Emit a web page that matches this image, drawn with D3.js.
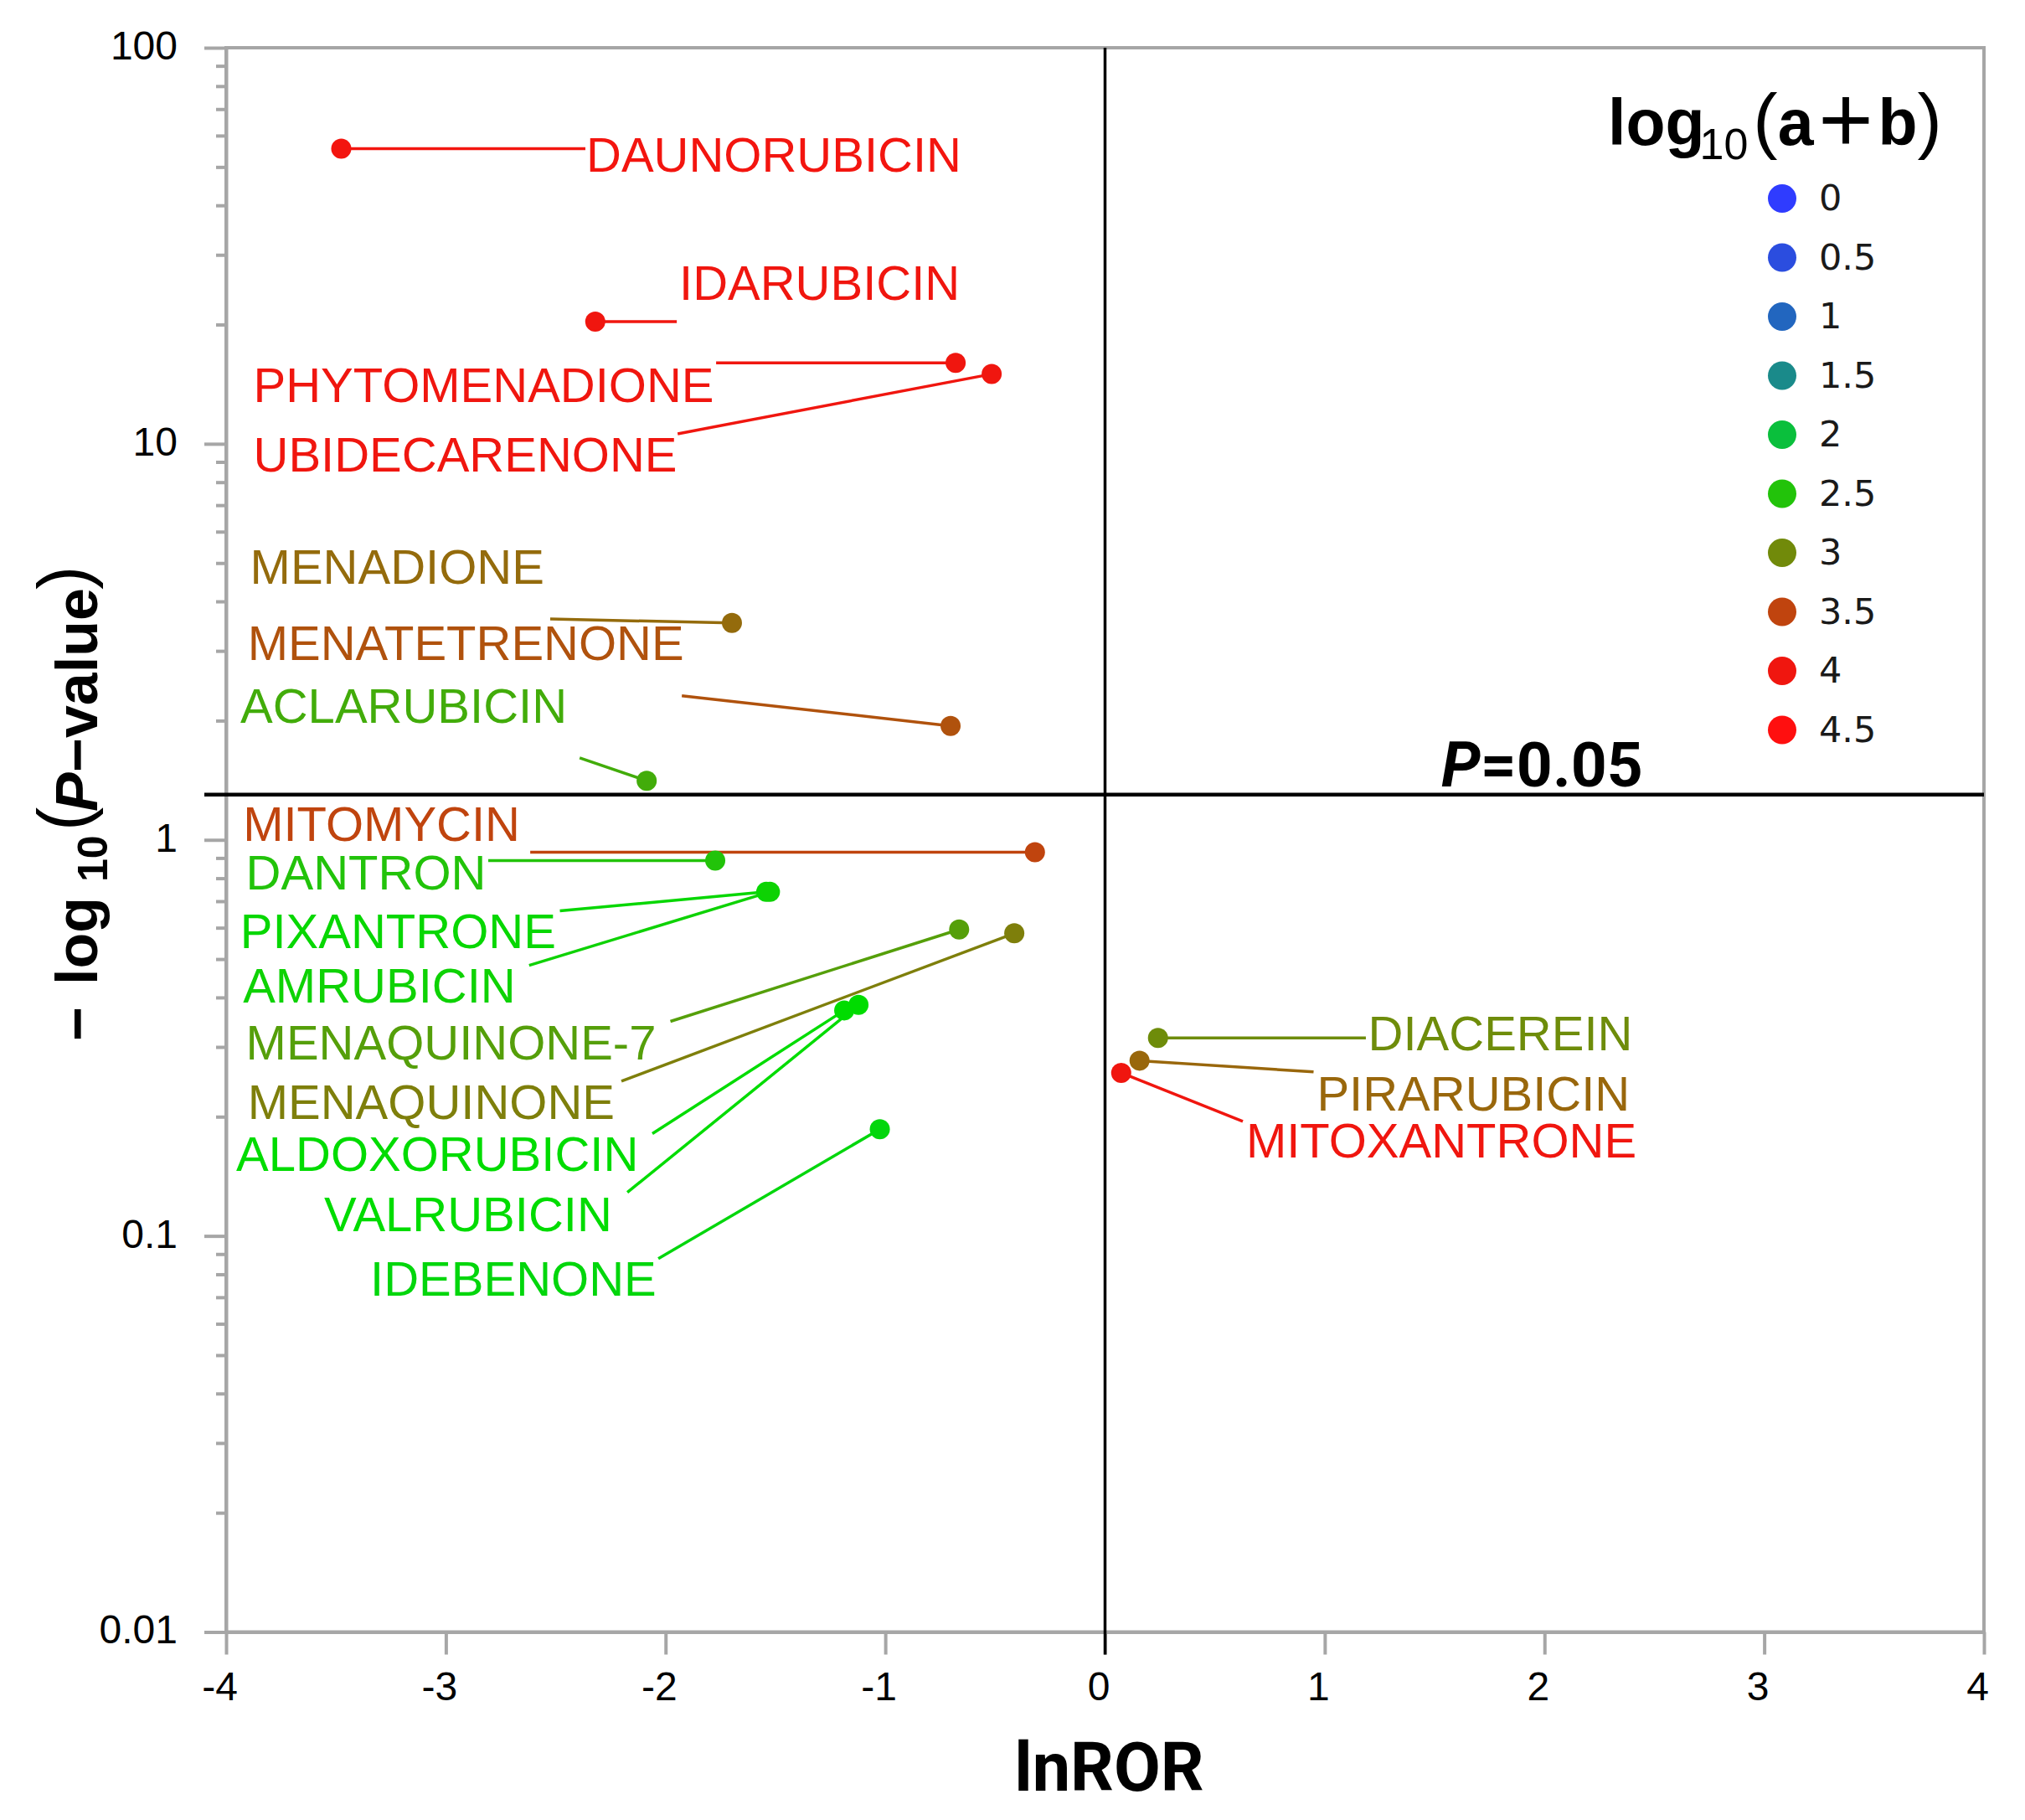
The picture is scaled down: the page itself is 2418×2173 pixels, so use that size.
<!DOCTYPE html>
<html><head><meta charset="utf-8">
<script src="https://cdn.jsdelivr.net/npm/d3@7"></script>
<style>html,body{margin:0;padding:0;background:#fff}</style>
</head><body>
<svg id="chart" width="2418" height="2173"></svg>
<script>
// ---------- data ----------
const drugs = ["DAUNORUBICIN","IDARUBICIN","PHYTOMENADIONE","UBIDECARENONE","MENADIONE","MENATETRENONE","ACLARUBICIN","MITOMYCIN","DANTRON","PIXANTRONE","AMRUBICIN","MENAQUINONE-7","MENAQUINONE","ALDOXORUBICIN","VALRUBICIN","IDEBENONE","DIACEREIN","PIRARUBICIN","MITOXANTRONE"];
const lnROR = [-3.476,-2.32,-0.68,-0.516,-1.698,-0.703,-2.086,-0.319,-1.774,-1.542,-1.525,-0.664,-0.413,-1.187,-1.122,-1.025,0.241,0.157,0.0735];
const negLogP = [55.6,20.35,16.0,15.0,3.53,1.94,1.41,0.931,0.886,0.739,0.739,0.594,0.581,0.371,0.383,0.186,0.316,0.277,0.258];
const logAB = [4.1,4.0,4.0,4.0,3.22,3.4,2.7,3.5,2.5,2.3,2.35,2.82,3.08,2.25,2.25,2.2,2.98,3.25,4.0];
const xTicks = [-4,-3,-2,-1,0,1,2,3,4];
const yTicks = [0.01,0.1,1,10,100];
const yTickLabels = ["0.01","0.1","1","10","100"];
const legendValues = [0,0.5,1,1.5,2,2.5,3,3.5,4,4.5];
const legendLabels = ["0","0.5","1","1.5","2","2.5","3","3.5","4","4.5"];
const pThreshold = 0.05;

// ---------- label layout (data coordinates) ----------
const labelAt = [[-2.361,48.6],[-1.938,23.1],[-3.876,12.75],[-3.876,8.53],[-3.891,4.43],[-3.902,2.85],[-3.935,1.975],[-3.923,0.994],[-3.910,0.750],[-3.936,0.533],[-3.923,0.388],[-3.910,0.279],[-3.902,0.1977],[-3.954,0.146],[-3.554,0.1030],[-3.344,0.0708],[1.197,0.2944],[0.964,0.2077],[0.642,0.1575]];
const leaderEnd = [[-2.365,55.6],[-1.949,20.35],[-1.770,16.0],[-1.945,10.6],[-2.525,3.61],[-1.926,2.31],[-2.391,1.61],[-2.616,0.931],[-2.807,0.886],[-2.481,0.662],[-2.621,0.482],[-1.978,0.348],[-2.201,0.2458],[-2.060,0.1812],[-2.174,0.1288],[-2.033,0.0876],[1.187,0.316],[0.949,0.2594],[0.627,0.1947]];

// ---------- styles ----------
const colorDomain = [0,0.5,1,1.5,2,2.25,2.5,3,3.5,4,4.5];
const colorRange = ["#2f3cff","#2b4ddf","#2266bf","#1a8a8a","#0abf3c","#00dc00","#22c30a","#718a0a","#c0440e","#f0160f","#ff0f0f"];
const legendSwatch = ["#2f3cff","#2b4ddf","#2266bf","#1a8a8a","#0abf3c","#22c30a","#718a0a","#c0440e","#f0160f","#ff0f0f"];
const axisGray = "#a6a6a6";
const sans = "'Liberation Sans', Arial, sans-serif";

const svg = d3.select("#chart");
svg.append("rect").attr("width",2418).attr("height",2173).attr("fill","#fff");

const L = 270, R = 2369, T = 57, B = 1948.5;
const x = d3.scaleLinear().domain([-4,4]).range([L,R]);
const y = d3.scaleLog().domain([0.01,100]).range([B,T]);
const color = d3.scaleLinear().domain(colorDomain).range(colorRange).clamp(true);

// frame
svg.append("rect").attr("x",L).attr("y",T).attr("width",R-L).attr("height",B-T)
  .attr("fill","none").attr("stroke",axisGray).attr("stroke-width",4);

// minor y ticks
const minor = [];
[0.01,0.1,1,10].forEach(d=>{for(let k=2;k<=9;k++) minor.push(d*k);});
const yMinor = svg.append("g").attr("transform",`translate(${L},0)`)
  .call(d3.axisLeft(y).tickValues(minor).tickSize(12).tickSizeOuter(0).tickFormat(""));
yMinor.selectAll("line").attr("stroke",axisGray).attr("stroke-width",4);
yMinor.select(".domain").remove();

// major y ticks
const yAx = svg.append("g").attr("transform",`translate(${L},0)`)
  .call(d3.axisLeft(y).tickValues(yTicks).tickSize(26).tickSizeOuter(0).tickPadding(32)
    .tickFormat((d,i)=>yTickLabels[i]));
yAx.selectAll("line").attr("stroke",axisGray).attr("stroke-width",4);
yAx.select(".domain").attr("stroke",axisGray).attr("stroke-width",4);
yAx.selectAll("text").attr("font-family",sans)
  .attr("font-size",48).attr("fill","#000").attr("dy","0.28em");

// x axis
const xAx = svg.append("g").attr("transform",`translate(0,${B})`)
  .call(d3.axisBottom(x).tickValues(xTicks).tickSize(27).tickSizeOuter(0).tickPadding(20)
    .tickFormat(d3.format("d")));
xAx.selectAll("line").attr("stroke",axisGray).attr("stroke-width",4);
xAx.select(".domain").attr("stroke",axisGray).attr("stroke-width",4);
xAx.selectAll("text").attr("font-family",sans)
  .attr("font-size",48).attr("fill","#000").attr("dx",-8).text(d=>String(d));

// reference lines
svg.append("line").attr("x1",x(0)).attr("x2",x(0)).attr("y1",T).attr("y2",B+27)
  .attr("stroke","#000").attr("stroke-width",3.5);
const yP = y(-Math.log10(pThreshold));
svg.append("line").attr("x1",L-26).attr("x2",R).attr("y1",yP).attr("y2",yP)
  .attr("stroke","#000").attr("stroke-width",4.5);
const pLab = svg.append("text").attr("x",x(1.53)).attr("y",yP-10)
  .attr("font-family","Roboto, 'Liberation Sans', sans-serif").attr("font-weight","bold")
  .attr("font-size",75).attr("fill","#000");
pLab.append("tspan").attr("font-style","italic").text("P");
pLab.append("tspan").text("=0.05");

// data rows
const rows = drugs.map((d,i)=>({name:d, x:lnROR[i], y:negLogP[i], c:color(logAB[i]), lab:labelAt[i], end:leaderEnd[i]}));

svg.append("g").selectAll("line").data(rows).join("line")
  .attr("x1",d=>x(d.x)).attr("y1",d=>y(d.y))
  .attr("x2",d=>x(d.end[0])).attr("y2",d=>y(d.end[1]))
  .attr("stroke",d=>d.c).attr("stroke-width",3.5);

svg.append("g").selectAll("circle").data(rows).join("circle")
  .attr("cx",d=>x(d.x)).attr("cy",d=>y(d.y)).attr("r",12).attr("fill",d=>d.c);

svg.append("g").selectAll("text").data(rows).join("text")
  .attr("x",d=>x(d.lab[0])).attr("y",d=>y(d.lab[1]))
  .attr("font-family",sans).attr("font-size",58)
  .attr("fill",d=>d.c).text(d=>d.name);

// axis titles
svg.append("text").attr("x",x(0)+5).attr("y",2138).attr("text-anchor","middle")
  .attr("font-family","Roboto, 'Liberation Sans', sans-serif").attr("font-weight","bold")
  .attr("font-size",81).attr("fill","#000").text("lnROR");

// y title, pieces laid along the rotated baseline
const yt = svg.append("g").attr("transform","translate(116,1239) rotate(-90)")
  .attr("font-family",sans).attr("fill","#000");
const ytPieces = [
  {t:"\u2212", s:-4, dy:0, size:70, w:"bold", st:"normal"},
  {t:"log", s:63, dy:0, size:70, w:"bold", st:"normal"},
  {t:"10", s:186, dy:12, size:50, w:"bold", st:"normal"},
  {t:"(", s:247, dy:-11, size:85, w:"normal", st:"normal"},
  {t:"P", s:270, dy:0, size:70, w:"bold", st:"italic"},
  {t:"\u2212value", s:317, dy:0, size:70, w:"bold", st:"normal"},
  {t:")", s:535, dy:-11, size:85, w:"normal", st:"normal"}
];
yt.selectAll("text").data(ytPieces).join("text")
  .attr("x",d=>d.s).attr("y",d=>d.dy).attr("font-size",d=>d.size)
  .attr("font-weight",d=>d.w).attr("font-style",d=>d.st).text(d=>d.t);

// legend
const lg = svg.append("g");
const lt = lg.append("text").attr("x",1920).attr("y",173)
  .attr("font-family",sans).attr("font-weight","bold")
  .attr("font-size",77).attr("fill","#000");
lt.append("tspan").text("log");
lt.append("tspan").attr("font-size",52).attr("font-weight","normal").attr("dy",17).attr("dx",-6).text("10");
lt.append("tspan").attr("font-size",88).attr("dy",-17).attr("dx",6).attr("font-weight","normal").text("(");
lt.append("tspan").text("a");
lt.append("tspan").attr("font-family","'Noto Sans CJK JP'").text("\uFF0B");
lt.append("tspan").text("b");
lt.append("tspan").attr("font-size",88).attr("font-weight","normal").text(")");

const items = lg.selectAll("g.item").data(legendValues).join("g").attr("class","item")
  .attr("transform",(d,i)=>`translate(2128,${237+i*70.5})`);
items.append("circle").attr("r",17).attr("fill",(d,i)=>legendSwatch[i]);
items.append("text").attr("x",44).attr("y",14)
  .attr("font-family","'DejaVu Sans', sans-serif").attr("font-size",43).attr("fill","#1a1a1a")
  .text((d,i)=>legendLabels[i]);
</script>
</body></html>
